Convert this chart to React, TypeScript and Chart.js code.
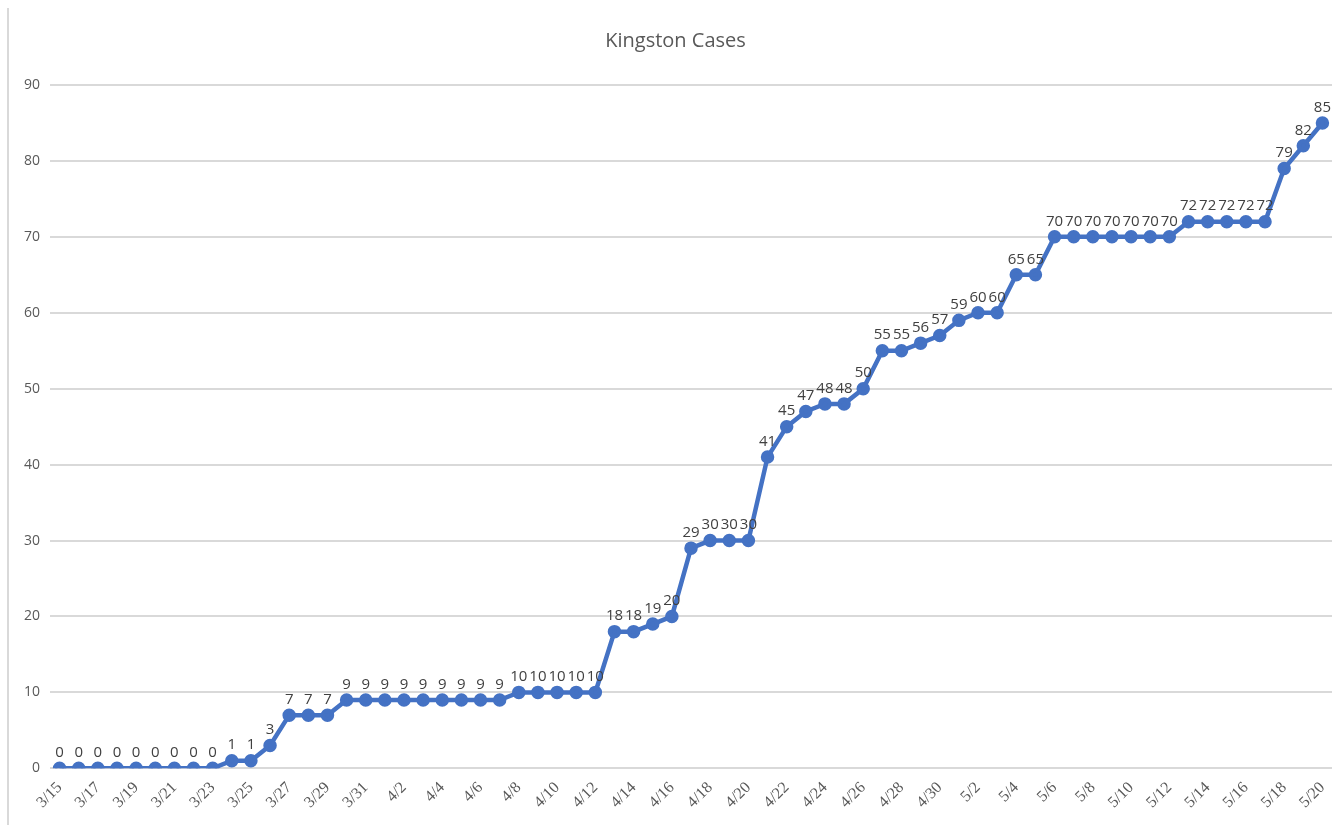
import React, { useEffect, useRef } from "react";
import { Chart, registerables } from "chart.js";

Chart.register(...registerables);

const dates: string[] = [
  "3/15","3/16","3/17","3/18","3/19","3/20","3/21","3/22","3/23","3/24","3/25","3/26","3/27","3/28","3/29","3/30","3/31",
  "4/1","4/2","4/3","4/4","4/5","4/6","4/7","4/8","4/9","4/10","4/11","4/12","4/13","4/14","4/15","4/16","4/17","4/18","4/19","4/20",
  "4/21","4/22","4/23","4/24","4/25","4/26","4/27","4/28","4/29","4/30",
  "5/1","5/2","5/3","5/4","5/5","5/6","5/7","5/8","5/9","5/10","5/11","5/12","5/13","5/14","5/15","5/16","5/17","5/18","5/19","5/20",
];

const cases: number[] = [
  0,0,0,0,0,0,0,0,0,1,1,3,7,7,7,9,9,
  9,9,9,9,9,9,9,10,10,10,10,10,18,18,19,20,29,30,30,30,
  41,45,47,48,48,50,55,55,56,57,
  59,60,60,65,65,70,70,70,70,70,70,70,72,72,72,72,72,79,82,85,
];

const yTicks: number[] = [0, 10, 20, 30, 40, 50, 60, 70, 80, 90];

const labelPlugin = {
  id: "pointLabels",
  afterDatasetsDraw(chart: any) {
    const ctx = chart.ctx;
    const meta = chart.getDatasetMeta(0);
    ctx.save();
    ctx.font = "15px 'Open Sans', sans-serif";
    ctx.fillStyle = "#404040";
    ctx.textAlign = "center";
    ctx.textBaseline = "bottom";
    meta.data.forEach((pt: any, i: number) => {
      ctx.fillText(String(cases[i]), pt.x, pt.y - 8);
    });
    ctx.restore();
  },
};

export default function App() {
  const ref = useRef<HTMLCanvasElement | null>(null);
  useEffect(() => {
    if (!ref.current) return;
    const chart = new Chart(ref.current, {
      type: "line",
      data: {
        labels: dates,
        datasets: [
          {
            data: cases,
            borderColor: "#4472C4",
            backgroundColor: "#4472C4",
            borderWidth: 4.5,
            pointRadius: 4.5,
            pointHoverRadius: 4.5,
            pointBackgroundColor: "#4472C4",
            pointBorderColor: "#4472C4",
            tension: 0,
          },
        ],
      },
      options: {
        animation: false,
        responsive: false,
        maintainAspectRatio: false,
        layout: { padding: { left: 14, right: 4, top: 10, bottom: 11 } },
        plugins: {
          legend: { display: false },
          tooltip: { enabled: false },
          title: {
            display: true,
            text: "Kingston Cases",
            color: "#595959",
            font: { family: "'Open Sans', sans-serif", size: 20, weight: "normal" },
            padding: { top: 19, bottom: 32 },
          },
        },
        scales: {
          x: {
            offset: true,
            grid: { display: false },
            border: { display: false },
            ticks: {
              autoSkip: false,
              maxRotation: 45,
              minRotation: 45,
              padding: 2,
              color: "#595959",
              font: { family: "'Liberation Serif', serif", size: 16 },
              callback: (_v: any, i: number) => (i % 2 === 0 ? dates[i] : ""),
            },
          },
          y: {
            min: 0,
            max: 90,
            afterBuildTicks: (axis: any) => {
              axis.ticks = yTicks.map((v) => ({ value: v }));
            },
            grid: { color: "#d9d9d9", lineWidth: 2, drawTicks: false },
            border: { display: false },
            ticks: {
              color: "#595959",
              padding: 10,
              font: { family: "'Open Sans', sans-serif", size: 14 },
            },
          },
        },
      },
      plugins: [labelPlugin],
    });
    return () => chart.destroy();
  }, []);

  return (
    <div style={{ position: "fixed", left: 0, top: 0, width: 1341, height: 825, background: "#fff" }}>
      <div style={{ position: "absolute", left: 7, top: 8, width: 2, height: 817, background: "#d9d9d9" }} />
      <canvas ref={ref} width={1341} height={825} style={{ position: "absolute", left: 0, top: 0 }} />
    </div>
  );
}
